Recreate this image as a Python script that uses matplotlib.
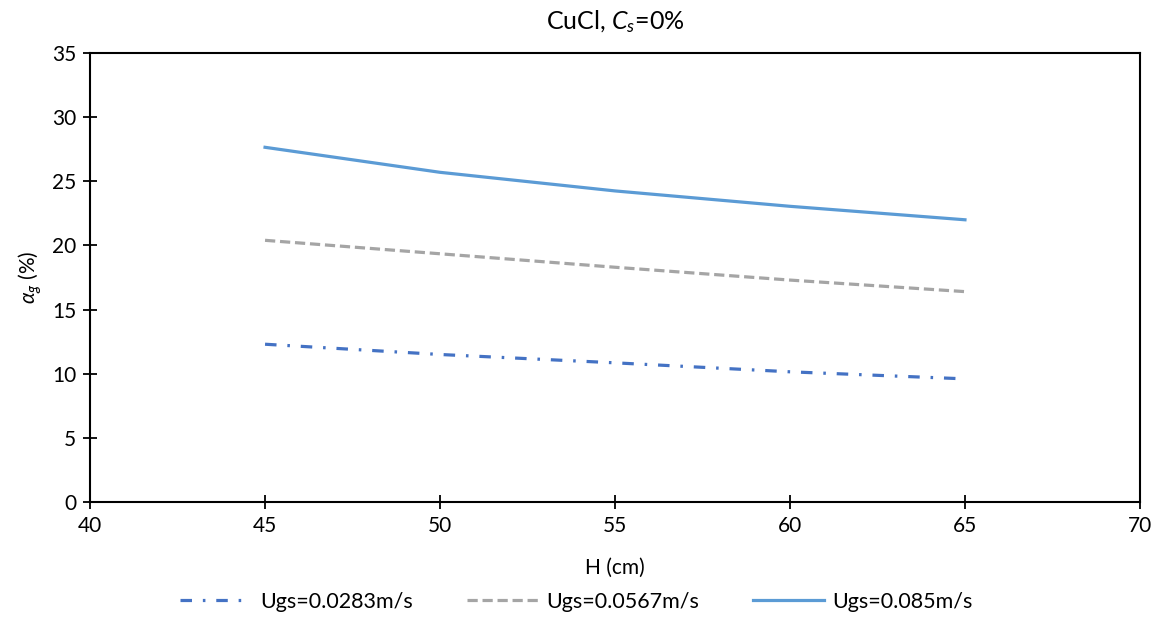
import numpy as np
import matplotlib
matplotlib.use("Agg")
import matplotlib.pyplot as plt

plt.rcParams['font.family'] = ['Lato', 'DejaVu Sans']
plt.rcParams['mathtext.fontset'] = 'custom'
plt.rcParams['mathtext.rm'] = 'Lato'
plt.rcParams['mathtext.it'] = 'Lato:italic'

# data
H = [45, 50, 55, 60, 65]
ug_0283 = [12.3, 11.5, 10.85, 10.15, 9.6]
ug_0567 = [20.4, 19.35, 18.3, 17.3, 16.4]
ug_085 = [27.65, 25.7, 24.25, 23.05, 22.0]
labels = ['Ugs=0.0283m/s', 'Ugs=0.0567m/s', 'Ugs=0.085m/s']

fig = plt.figure(figsize=(11.65, 6.28), dpi=100)
ax = fig.add_axes([0.0773, 0.2006, 0.9012, 0.715])

ax.plot(H, ug_0283, color='#4472C4', lw=2.3, dashes=(3.6, 3.4, 0.8, 3.4), label=labels[0])
ax.plot(H, ug_0567, color='#A5A5A5', lw=2.3, dashes=(3.2, 1.5), label=labels[1])
ax.plot(H, ug_085, color='#5B9BD5', lw=2.3, label=labels[2])

ax.set_xlim(40, 70)
ax.set_ylim(0, 35)
ax.set_xticks(np.arange(40, 71, 5))
ax.set_yticks(np.arange(0, 36, 5))
ax.tick_params(direction='inout', length=10, width=1.3, labelsize=15, colors='black', pad=5)
for s in ax.spines.values():
    s.set_linewidth(1.5)
    s.set_color('black')

ax.set_xlabel('H (cm)', fontsize=15, labelpad=16)
ax.set_ylabel(r'$\alpha_g$ (%)', fontsize=15, labelpad=6)
ax.set_title(r'CuCl, $C_s$=0%', fontsize=18, pad=17)

fig.legend(loc='lower center', bbox_to_anchor=(0.495, -0.005), ncol=3, frameon=False,
           fontsize=15.5, columnspacing=2.5, handlelength=3.3, handletextpad=0.4)

fig.savefig('out.png', dpi=100)
